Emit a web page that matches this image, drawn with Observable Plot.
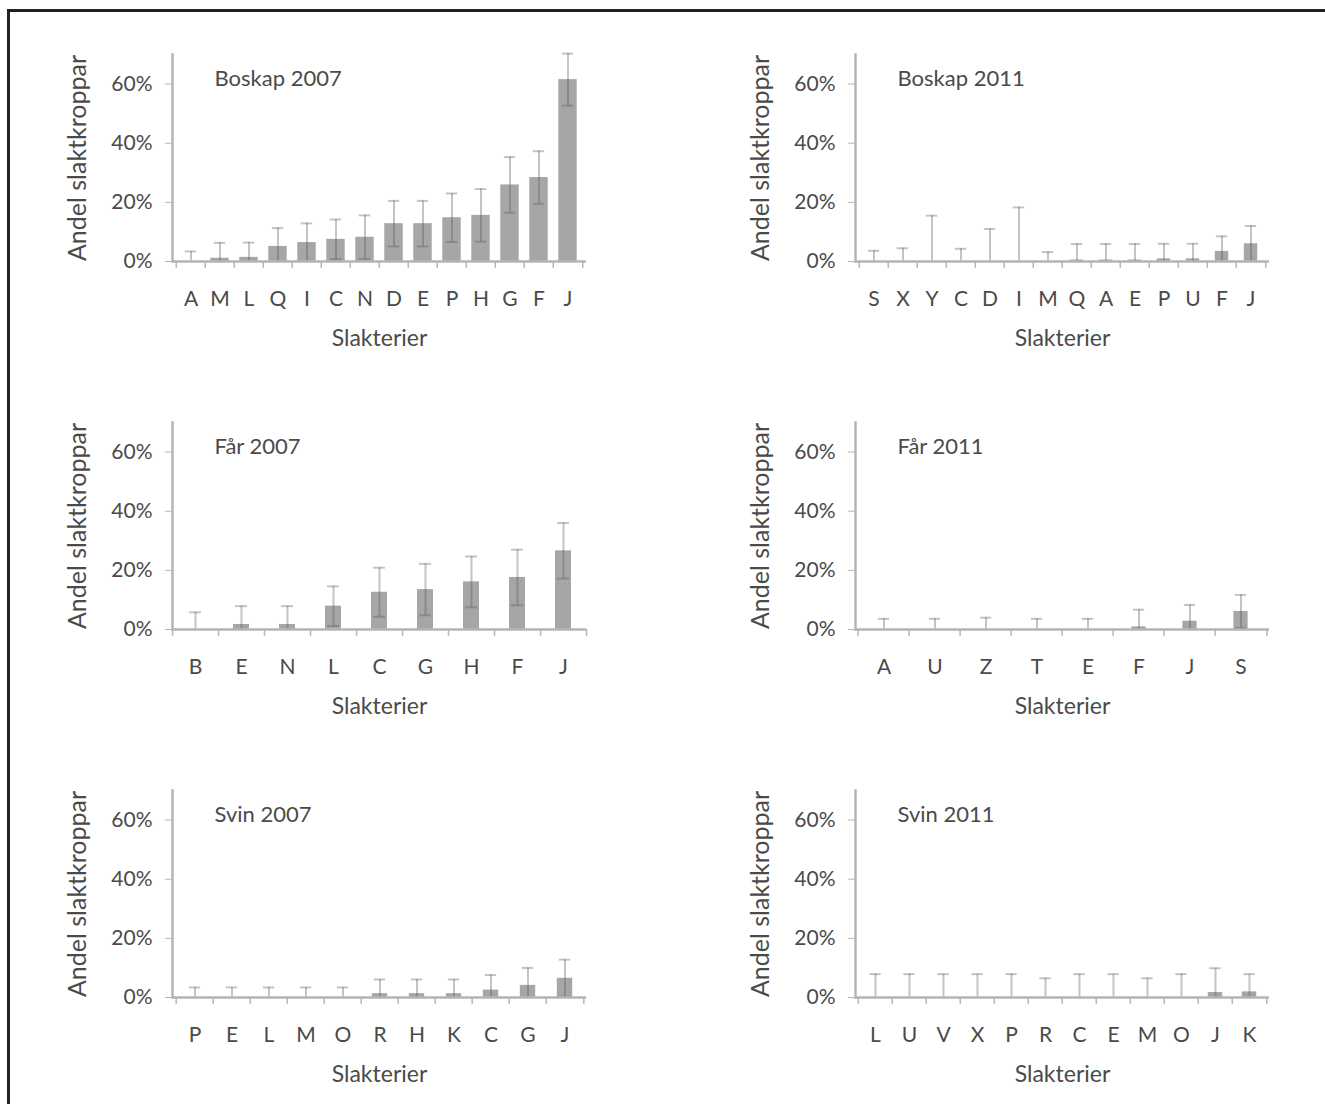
<!DOCTYPE html>
<html>
<head>
<meta charset="utf-8">
<script src="https://cdn.jsdelivr.net/npm/d3@7"></script>
<script src="https://cdn.jsdelivr.net/npm/@observablehq/plot@0.6"></script>
<style>
  html, body { margin: 0; padding: 0; background: #fff; }
  #fig { position: relative; width: 1325px; height: 1104px; overflow: hidden; background: #fff; }
  #fig .edge { position: absolute; background: #222; }
  #fig .panel { position: absolute; }
</style>
</head>
<body>
<div id="fig">
  <div class="edge" style="left:7px; top:9px; width:1318px; height:3px;"></div>
  <div class="edge" style="left:7px; top:9px; width:3px; height:1095px;"></div>
</div>
<script>
// Andel slaktkroppar (%) per slakteri, with error margins (%)
const boskap2007Slakterier = ["A", "M", "L", "Q", "I", "C", "N", "D", "E", "P", "H", "G", "F", "J"];
const boskap2007Andel = [0, 1.1, 1.4, 5.1, 6.4, 7.5, 8.2, 12.8, 12.8, 14.8, 15.6, 25.9, 28.4, 61.5];
const boskap2007Fel = [3.4, 5.2, 5.0, 6.2, 6.5, 6.7, 7.4, 7.7, 7.7, 8.2, 8.9, 9.4, 8.9, 8.8];

const boskap2011Slakterier = ["S", "X", "Y", "C", "D", "I", "M", "Q", "A", "E", "P", "U", "F", "J"];
const boskap2011Andel = [0, 0, 0, 0, 0, 0, 0, 0.5, 0.5, 0.5, 0.9, 0.9, 3.4, 6.0];
const boskap2011Fel = [3.6, 4.5, 15.5, 4.3, 11.0, 18.3, 3.2, 5.4, 5.4, 5.4, 5.1, 5.1, 5.1, 6.0];

const far2007Slakterier = ["B", "E", "N", "L", "C", "G", "H", "F", "J"];
const far2007Andel = [0, 1.7, 1.7, 7.9, 12.6, 13.5, 16.1, 17.6, 26.6];
const far2007Fel = [5.8, 6.2, 6.2, 6.7, 8.3, 8.7, 8.6, 9.4, 9.4];

const far2011Slakterier = ["A", "U", "Z", "T", "E", "F", "J", "S"];
const far2011Andel = [0, 0, 0, 0, 0, 0.9, 2.8, 6.1];
const far2011Fel = [3.6, 3.6, 4.0, 3.6, 3.6, 5.8, 5.5, 5.6];

const svin2007Slakterier = ["P", "E", "L", "M", "O", "R", "H", "K", "C", "G", "J"];
const svin2007Andel = [0, 0, 0, 0, 0, 1.3, 1.3, 1.3, 2.5, 4.1, 6.5];
const svin2007Fel = [3.4, 3.4, 3.4, 3.4, 3.4, 4.8, 4.8, 4.8, 5.1, 5.9, 6.3];

const svin2011Slakterier = ["L", "U", "V", "X", "P", "R", "C", "E", "M", "O", "J", "K"];
const svin2011Andel = [0, 0, 0, 0, 0, 0, 0, 0, 0, 0, 1.7, 1.9];
const svin2011Fel = [7.9, 7.9, 7.9, 7.9, 7.9, 6.5, 7.9, 7.9, 6.5, 7.9, 8.2, 6.0];

const yTicks = [0, 20, 40, 60];
const yLabel = "Andel slaktkroppar";
const xLabel = "Slakterier";

const panels = [
  {title: "Boskap 2007", cats: boskap2007Slakterier, values: boskap2007Andel, errors: boskap2007Fel, barWidth: 19, col: 0, row: 0},
  {title: "Boskap 2011", cats: boskap2011Slakterier, values: boskap2011Andel, errors: boskap2011Fel, barWidth: 14, col: 1, row: 0},
  {title: "Får 2007", cats: far2007Slakterier, values: far2007Andel, errors: far2007Fel, barWidth: 16, col: 0, row: 1},
  {title: "Får 2011", cats: far2011Slakterier, values: far2011Andel, errors: far2011Fel, barWidth: 15, col: 1, row: 1},
  {title: "Svin 2007", cats: svin2007Slakterier, values: svin2007Andel, errors: svin2007Fel, barWidth: 16, col: 0, row: 2},
  {title: "Svin 2011", cats: svin2011Slakterier, values: svin2011Andel, errors: svin2011Fel, barWidth: 15, col: 1, row: 2}
];

const W = 570, H = 337, mL = 132, mR = 24, mT = 40, mB = 90;
const colLeft = [40, 723];
const rowTop = [14, 382, 750];
const axisGray = "#b4b4b4";
const textGray = "#4a4a4a";
const barGray = "#a6a6a6";
const font = "Lato, 'Open Sans', sans-serif";

function panel({title, cats, values, errors, barWidth}) {
  const rows = cats.map((c, i) => ({slakteri: c, andel: values[i], fel: errors[i]}));
  const bw = (W - mL - mR) / cats.length;
  const barInset = (bw - barWidth) / 2;
  const capInset = (bw - 12) / 2;
  const lower = rows.filter(d => d.andel - d.fel > 0);
  const last = cats[cats.length - 1];
  const err = {stroke: "#555", strokeOpacity: 0.35, strokeWidth: 2};
  return Plot.plot({
    width: W, height: H,
    marginLeft: mL, marginRight: mR, marginTop: mT, marginBottom: mB,
    style: {fontFamily: font, fontSize: "21px", color: textGray, background: "transparent", overflow: "visible"},
    x: {domain: cats, padding: 0},
    y: {domain: [0, 70]},
    marks: [
      Plot.barY(rows, {x: "slakteri", y: "andel", fill: barGray, insetLeft: barInset, insetRight: barInset}),
      // error bars with caps
      Plot.ruleX(rows, {x: "slakteri", y1: d => Math.max(0, d.andel - d.fel), y2: d => d.andel + d.fel, ...err}),
      Plot.tickY(rows, {x: "slakteri", y: d => d.andel + d.fel, ...err, insetLeft: capInset, insetRight: capInset}),
      Plot.tickY(lower, {x: "slakteri", y: d => d.andel - d.fel, ...err, insetLeft: capInset, insetRight: capInset}),
      // axis lines
      Plot.ruleY([0], {stroke: axisGray, strokeWidth: 2.5}),
      Plot.frame({anchor: "left", stroke: axisGray, strokeWidth: 2.5}),
      // tick marks between the categories
      Plot.ruleX(cats, {x: d => d, dx: -bw / 2, y1: 0, y2: -2.3, stroke: axisGray, strokeWidth: 1.5}),
      Plot.ruleX([last], {x: d => d, dx: bw / 2, y1: 0, y2: -2.3, stroke: axisGray, strokeWidth: 1.5}),
      Plot.axisY({ticks: yTicks, tickFormat: d => d + "%", tickSize: 7, tickPadding: 13, stroke: axisGray, fill: textGray, label: null}),
      Plot.axisX({tickSize: 0, tickPadding: 30, fill: textGray, label: null}),
      // axis titles and panel title
      Plot.text([yLabel], {frameAnchor: "left", rotate: -90, dx: -95, textAnchor: "middle", lineAnchor: "middle", fill: textGray, fontSize: 25}),
      Plot.text([xLabel], {frameAnchor: "bottom", dy: 77, textAnchor: "middle", lineAnchor: "middle", fill: textGray, fontSize: 23}),
      Plot.text([title], {frameAnchor: "top-left", dx: 42, dy: 16, textAnchor: "start", fill: textGray, fontSize: 22})
    ]
  });
}

const fig = document.getElementById("fig");
for (const p of panels) {
  const el = panel(p);
  el.classList.add("panel");
  el.style.left = colLeft[p.col] + "px";
  el.style.top = rowTop[p.row] + "px";
  fig.appendChild(el);
}
</script>
</body>
</html>
